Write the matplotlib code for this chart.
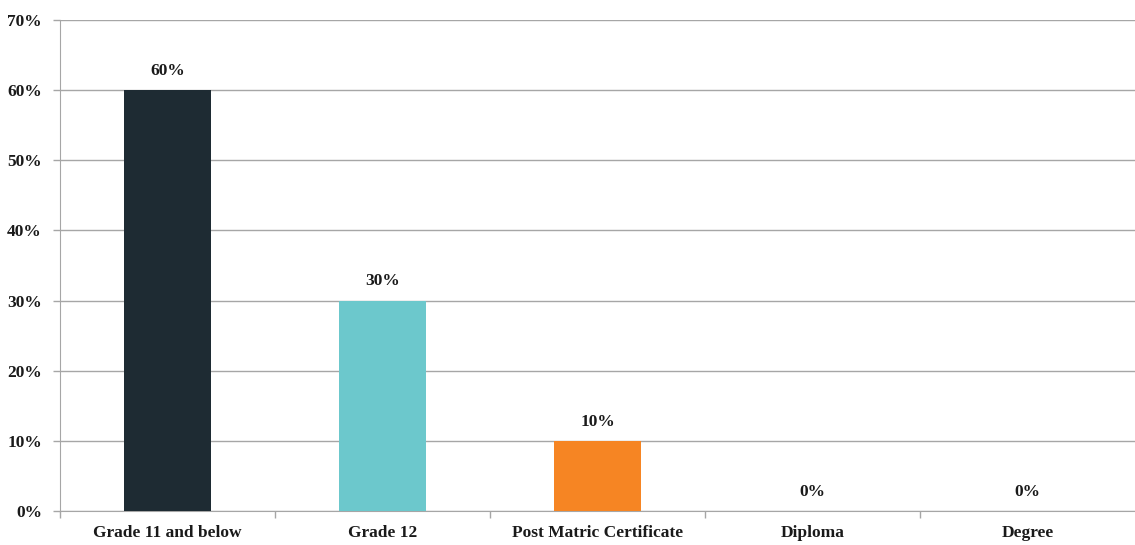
import matplotlib
matplotlib.use("Agg")
import matplotlib.pyplot as plt
from matplotlib.ticker import PercentFormatter

categories = ["Grade 11 and below", "Grade 12", "Post Matric Certificate", "Diploma", "Degree"]
values = [60, 30, 10, 0, 0]
colors = ["#1e2b33", "#6cc8cc", "#f68523", "#1e2b33", "#1e2b33"]
yticks = [0, 10, 20, 30, 40, 50, 60, 70]

plt.rcParams["font.family"] = ["Liberation Serif", "DejaVu Serif"]
plt.rcParams["font.weight"] = "bold"

fig = plt.figure(figsize=(11.35, 5.45), dpi=100)
ax = fig.add_axes([60 / 1135, 34 / 545, 1 - 60 / 1135, 491 / 545])

x = list(range(len(categories)))
ax.bar(x, values, width=0.405, color=colors, zorder=3)

for xi, v in zip(x, values):
    ax.annotate(f"{v}%", (xi, v), xytext=(0, 8), textcoords="offset points",
                ha="center", va="bottom", fontsize=12.5, fontweight="bold", color="#1a1a1a")

ax.set_xlim(-0.5, len(categories) - 0.5)
ax.set_ylim(0, 70)
ax.set_yticks(yticks)
ax.yaxis.set_major_formatter(PercentFormatter(decimals=0))
ax.yaxis.grid(True, color="#a6a6a6", linewidth=1, zorder=0)

# category labels centred, tick marks on category boundaries
ax.set_xticks(x)
ax.set_xticklabels(categories)
ax.tick_params(axis="x", length=0, pad=10, labelsize=12.5)
ax.set_xticks([i + 0.5 for i in range(-1, len(categories) - 1)], minor=True)
ax.tick_params(axis="x", which="minor", length=5, color="#a6a6a6", width=1)
ax.tick_params(axis="y", length=5, color="#a6a6a6", width=1, labelsize=12.5, pad=8)

for lbl in ax.get_xticklabels() + ax.get_yticklabels():
    lbl.set_fontweight("bold")
    lbl.set_color("#1a1a1a")

for side in ["top", "right"]:
    ax.spines[side].set_visible(False)
ax.spines["left"].set_color("#a6a6a6")
ax.spines["bottom"].set_color("#a6a6a6")

fig.savefig("out.png", dpi=100)
